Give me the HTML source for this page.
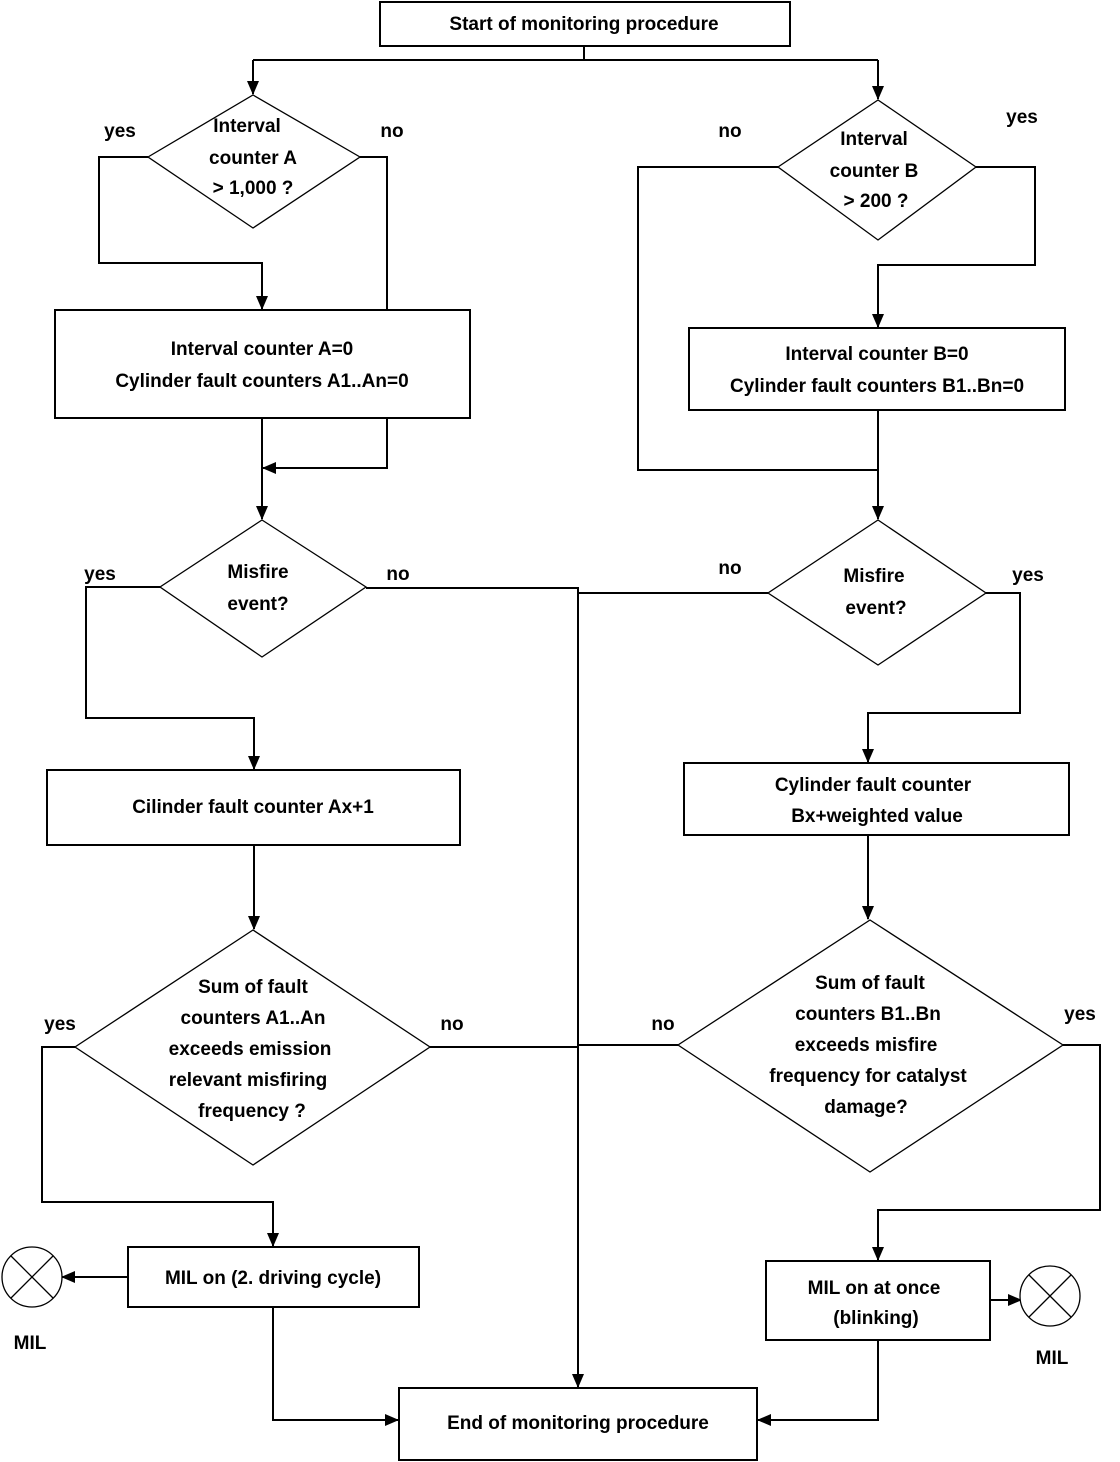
<!DOCTYPE html>
<html><head><meta charset="utf-8"><style>
html,body{margin:0;padding:0;background:#fff;}
svg{display:block;}
text{font-family:"Liberation Sans",sans-serif;font-weight:bold;font-size:19px;fill:#000;text-anchor:middle;}
.l{fill:none;stroke:#000;stroke-width:2;}
.d{fill:#fff;stroke:#000;stroke-width:1.3;}
.b{fill:#fff;stroke:#000;stroke-width:2;}
</style></head><body>
<svg width="1120" height="1462" viewBox="0 0 1120 1462" xmlns="http://www.w3.org/2000/svg">
<defs>
<marker id="a" markerWidth="14" markerHeight="12" refX="13" refY="6" orient="auto" markerUnits="userSpaceOnUse" viewBox="0 0 14 12">
<path d="M0,0 L14,6 L0,12 z" fill="#000"/></marker>
</defs>
<path class="l" d="M584,46 V60"/>
<path class="l" d="M253,60 H878"/>
<path class="l" d="M253,60 V94" marker-end="url(#a)"/>
<path class="l" d="M878,60 V99" marker-end="url(#a)"/>
<path class="l" d="M148,157 H99 V263 H262 V309" marker-end="url(#a)"/>
<path class="l" d="M360,157 H387 V310"/>
<path class="l" d="M262,418 V519" marker-end="url(#a)"/>
<path class="l" d="M387,418 V468 H263" marker-end="url(#a)"/>
<path class="l" d="M160,587 H86 V718 H254 V769" marker-end="url(#a)"/>
<path class="l" d="M366,588 H578 V1387" marker-end="url(#a)"/>
<path class="l" d="M578,593 H768"/>
<path class="l" d="M254,845 V929" marker-end="url(#a)"/>
<path class="l" d="M75,1047 H42 V1202 H273 V1246" marker-end="url(#a)"/>
<path class="l" d="M430,1047 H578"/>
<path class="l" d="M578,1045 H678"/>
<path class="l" d="M128,1277 H62" marker-end="url(#a)"/>
<path class="l" d="M273,1307 V1420 H398" marker-end="url(#a)"/>
<path class="l" d="M976,167 H1035 V265 H878 V327" marker-end="url(#a)"/>
<path class="l" d="M778,167 H638 V470 H878"/>
<path class="l" d="M878,410 V519" marker-end="url(#a)"/>
<path class="l" d="M986,593 H1020 V713 H868 V762" marker-end="url(#a)"/>
<path class="l" d="M868,835 V919" marker-end="url(#a)"/>
<path class="l" d="M1063,1045 H1100 V1210 H878 V1260" marker-end="url(#a)"/>
<path class="l" d="M990,1300 H1021" marker-end="url(#a)"/>
<path class="l" d="M878,1340 V1420 H758" marker-end="url(#a)"/>

<rect class="b" x="380" y="2" width="410" height="44"/>
<text x="584" y="30">Start of monitoring procedure</text>

<polygon class="d" points="253,95 360,157 253,228 148,157"/>
<text x="247" y="132">Interval</text>
<text x="253" y="164">counter A</text>
<text x="253" y="194">&gt; 1,000 ?</text>
<text x="120" y="137">yes</text>
<text x="392" y="137">no</text>

<rect class="b" x="55" y="310" width="415" height="108"/>
<text x="262" y="355">Interval counter A=0</text>
<text x="262" y="387">Cylinder fault counters A1..An=0</text>

<polygon class="d" points="262,520 366,587 262,657 160,587"/>
<text x="258" y="578">Misfire</text>
<text x="258" y="610">event?</text>
<text x="100" y="580">yes</text>
<text x="398" y="580">no</text>

<rect class="b" x="47" y="770" width="413" height="75"/>
<text x="253" y="813">Cilinder fault counter Ax+1</text>

<polygon class="d" points="253,930 430,1047 253,1165 75,1047"/>
<text x="253" y="993">Sum of  fault</text>
<text x="253" y="1024">counters A1..An</text>
<text x="250" y="1055">exceeds emission</text>
<text x="248" y="1086">relevant misfiring</text>
<text x="252" y="1117">frequency ?</text>
<text x="60" y="1030">yes</text>
<text x="452" y="1030">no</text>

<rect class="b" x="128" y="1247" width="291" height="60"/>
<text x="273" y="1284">MIL on (2. driving cycle)</text>
<circle cx="32" cy="1277" r="30" fill="#fff" stroke="#000" stroke-width="1.3"/>
<path d="M11,1256 L53,1298 M53,1256 L11,1298" stroke="#000" stroke-width="1.3"/>
<text x="30" y="1349">MIL</text>

<rect class="b" x="399" y="1388" width="358" height="72"/>
<text x="578" y="1429">End of monitoring procedure</text>

<polygon class="d" points="878,100 976,167 878,240 778,167"/>
<text x="874" y="145">Interval</text>
<text x="874" y="177">counter B</text>
<text x="876" y="207">&gt; 200 ?</text>
<text x="730" y="137">no</text>
<text x="1022" y="123">yes</text>

<rect class="b" x="689" y="328" width="376" height="82"/>
<text x="877" y="360">Interval counter B=0</text>
<text x="877" y="392">Cylinder fault counters B1..Bn=0</text>

<polygon class="d" points="878,520 986,593 878,665 768,593"/>
<text x="874" y="582">Misfire</text>
<text x="876" y="614">event?</text>
<text x="730" y="574">no</text>
<text x="1028" y="581">yes</text>

<rect class="b" x="684" y="763" width="385" height="72"/>
<text x="873" y="791">Cylinder fault counter</text>
<text x="877" y="822">Bx+weighted value</text>

<polygon class="d" points="870,920 1063,1045 870,1172 678,1045"/>
<text x="870" y="989">Sum of  fault</text>
<text x="868" y="1020">counters B1..Bn</text>
<text x="866" y="1051">exceeds misfire</text>
<text x="868" y="1082">frequency for catalyst</text>
<text x="866" y="1113">damage?</text>
<text x="663" y="1030">no</text>
<text x="1080" y="1020">yes</text>

<rect class="b" x="766" y="1261" width="224" height="79"/>
<text x="874" y="1294">MIL on at once</text>
<text x="876" y="1324">(blinking)</text>
<circle cx="1050" cy="1296" r="30" fill="#fff" stroke="#000" stroke-width="1.3"/>
<path d="M1029,1275 L1071,1317 M1071,1275 L1029,1317" stroke="#000" stroke-width="1.3"/>
<text x="1052" y="1364">MIL</text>
</svg>
</body></html>
